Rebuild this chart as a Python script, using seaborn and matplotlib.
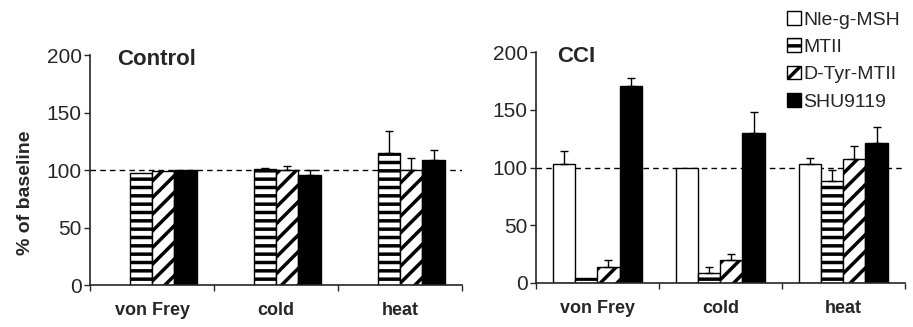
import numpy as np
import pandas as pd
import matplotlib
matplotlib.use('Agg')
import matplotlib.pyplot as plt
from matplotlib.patches import Patch
import seaborn as sns

# categories and treatments
categories = ['von Frey', 'cold', 'heat']
treatments = ['Nle-g-MSH', 'MTII', 'D-Tyr-MTII', 'SHU9119']

# Control panel (% of baseline), no Nle-g-MSH group
control_nle = [np.nan, np.nan, np.nan]
control_mtii = [98, 101, 115]
control_dtyr = [99, 100, 100]
control_shu = [100, 96, 109]
control_nle_err = [0, 0, 0]
control_mtii_err = [0, 1, 19]
control_dtyr_err = [0, 4, 11]
control_shu_err = [0, 4, 9]

# CCI panel (% of baseline)
cci_nle = [103, 100, 103]
cci_mtii = [4, 9, 88]
cci_dtyr = [14, 20, 107]
cci_shu = [171, 130, 121]
cci_nle_err = [11, 0, 5]
cci_mtii_err = [0, 5, 10]
cci_dtyr_err = [6, 5, 12]
cci_shu_err = [7, 18, 14]

# styling per treatment
colors = ['white', 'white', 'white', 'black']
hatches = ['', '--', '//', '']

sns.set_style('ticks')
plt.rcParams['font.family'] = ['Liberation Sans', 'DejaVu Sans']
plt.rcParams['hatch.linewidth'] = 2.5


# building long df for one panel
def make_df(series):
    rows = []
    for treatment, values in zip(treatments, series):
        for test, value in zip(categories, values):
            rows.append({'test': test, 'treatment': treatment, 'value': value})
    return pd.DataFrame(rows)


# drawing one panel
def draw_panel(ax, series, errors, title, title_x):
    df = make_df(series)
    sns.barplot(data=df, x='test', y='value', hue='treatment',
                order=categories, hue_order=treatments,
                palette=colors, saturation=1, width=0.72,
                errorbar=None, edgecolor='black', linewidth=1,
                legend=False, ax=ax)

    # hatches and upward error bars, located from the drawn bars
    for p in ax.patches:
        h = p.get_height()
        if np.isnan(h):
            continue
        w = p.get_width()
        xc = p.get_x() + w / 2
        cat = int(round(xc))
        j = int(round((xc - cat) / w + 1.5))
        p.set_hatch(hatches[j])
        p.set_zorder(2)
        err = errors[j][cat]
        if err > 0:
            ax.errorbar(xc, h, yerr=[[0], [err]], fmt='none',
                        ecolor='black', elinewidth=1, capsize=3,
                        capthick=1, zorder=3)

    # baseline reference
    ax.axhline(100, ls=(0, (4, 3)), color='black', lw=1, zorder=1)

    ax.set_ylim(0, 200)
    ax.set_xlim(-0.5, 2.5)
    ax.set_yticks([0, 50, 100, 150, 200])
    ax.tick_params(axis='y', length=4, width=1, pad=2, labelsize=15)
    ax.set_xticks(range(3))
    ax.set_xticks([-0.5, 0.5, 1.5, 2.5], minor=True)
    ax.tick_params(axis='x', which='major', length=0, pad=12, labelsize=13)
    ax.tick_params(axis='x', which='minor', length=4, width=1)
    for lbl in ax.get_xticklabels():
        lbl.set_fontweight('bold')
    ax.set_xlabel('')
    ax.set_ylabel('')
    sns.despine(ax=ax)
    for s in ['left', 'bottom']:
        ax.spines[s].set_linewidth(1.2)

    ax.text(title_x, 0.98, title, transform=ax.transAxes,
            fontsize=16, fontweight='bold', va='center', ha='left')


fig = plt.figure(figsize=(9.13, 3.27), dpi=100)
ax1 = fig.add_axes([0.0986, 0.128, 0.4075, 0.703])
ax2 = fig.add_axes([0.587, 0.1346, 0.404, 0.706])

draw_panel(ax1, [control_nle, control_mtii, control_dtyr, control_shu],
           [control_nle_err, control_mtii_err, control_dtyr_err, control_shu_err],
           'Control', 0.073)
draw_panel(ax2, [cci_nle, cci_mtii, cci_dtyr, cci_shu],
           [cci_nle_err, cci_mtii_err, cci_dtyr_err, cci_shu_err],
           'CCI', 0.057)

ax1.set_ylabel('% of baseline', fontsize=14, fontweight='bold')
ax1.yaxis.set_label_coords(-0.15, 0.4)

# legend with hatched squares
handles = [Patch(facecolor=c, edgecolor='black', hatch=h, lw=1)
           for c, h in zip(colors, hatches)]
fig.legend(handles, treatments, loc='upper left',
           bbox_to_anchor=(787 / 913, 1 - 11 / 327), frameon=False,
           fontsize=14, handlelength=0.7, handleheight=0.7,
           handletextpad=0.15, labelspacing=0.5, borderpad=0,
           borderaxespad=0)

plt.savefig('out.png', dpi=100)
